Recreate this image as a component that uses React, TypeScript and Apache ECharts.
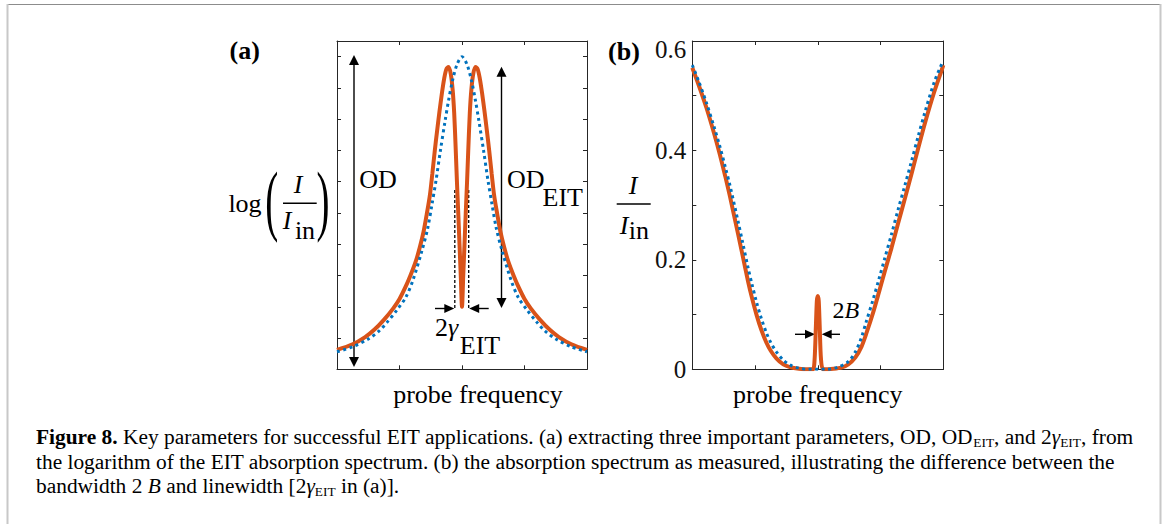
import React, { useEffect, useRef } from "react";
import * as echarts from "echarts";

// ---------- data ----------
// Panel (a): log(I/Iin) vs probe frequency
const aBlueX = [-4, -3.5, -3, -2.66, -2.4, -2.08, -1.8, -1.57, -1.28, -1.1, -0.96, -0.83, -0.69, -0.54, -0.43, -0.3, -0.16, 0, 0.16, 0.3, 0.43, 0.54, 0.69, 0.83, 0.96, 1.1, 1.28, 1.57, 1.8, 2.08, 2.4, 2.66, 3, 3.5, 4];
const aBlueY = [0.56, 0.72, 0.97, 1.22, 1.5, 1.9, 2.3, 2.85, 3.8, 4.5, 5.28, 6.05, 7.0, 7.95, 8.6, 9.25, 9.75, 10.0, 9.75, 9.25, 8.6, 7.95, 7.0, 6.05, 5.28, 4.5, 3.8, 2.85, 2.3, 1.9, 1.5, 1.22, 0.97, 0.72, 0.56];

const aOrangeX = [-4, -3.5, -3.1, -2.8, -2.5, -2.2, -2.0, -1.8, -1.65, -1.48, -1.35, -1.23, -1.13, -1.03, -0.95, -0.87, -0.8, -0.72, -0.64, -0.57, -0.5, -0.43, -0.36, -0.3, -0.25, -0.2, -0.16, -0.12, -0.08, -0.04, 0, 0.04, 0.08, 0.12, 0.16, 0.2, 0.25, 0.3, 0.36, 0.43, 0.5, 0.57, 0.64, 0.72, 0.8, 0.87, 0.95, 1.03, 1.13, 1.23, 1.35, 1.48, 1.65, 1.8, 2.0, 2.2, 2.5, 2.8, 3.1, 3.5, 4];
const aOrangeY = [0.62, 0.8, 1.03, 1.27, 1.58, 1.95, 2.25, 2.65, 3.0, 3.45, 3.9, 4.4, 4.95, 5.55, 6.25, 7.0, 7.6, 8.25, 8.85, 9.3, 9.6, 9.67, 9.45, 8.95, 8.2, 7.0, 5.95, 5.0, 4.0, 3.0, 2.0, 3.0, 4.0, 5.0, 5.95, 7.0, 8.2, 8.95, 9.45, 9.67, 9.6, 9.3, 8.85, 8.25, 7.6, 7.0, 6.25, 5.55, 4.95, 4.4, 3.9, 3.45, 3.0, 2.65, 2.25, 1.95, 1.58, 1.27, 1.03, 0.8, 0.62];

// Panel (b): I/Iin vs probe frequency
const bBlueX = [-4, -3.8, -3.55, -3.3, -3.12, -2.95, -2.8, -2.54, -2.4, -2.22, -2.1, -1.95, -1.8, -1.64, -1.5, -1.32, -1.1, -0.89, -0.6, -0.3, 0, 0.3, 0.6, 0.97, 1.2, 1.39, 1.55, 1.76, 1.95, 2.13, 2.35, 2.56, 2.78, 2.99, 3.2, 3.41, 3.7, 3.95, 4];
const bBlueY = [0.556, 0.527, 0.487, 0.442, 0.407, 0.37, 0.336, 0.27, 0.233, 0.185, 0.156, 0.122, 0.093, 0.067, 0.049, 0.032, 0.017, 0.008, 0.002, 0, 0, 0, 0.003, 0.014, 0.032, 0.058, 0.088, 0.127, 0.165, 0.202, 0.247, 0.292, 0.337, 0.381, 0.426, 0.469, 0.523, 0.558, 0.562];

const bOrangeX = [-4, -3.8, -3.55, -3.3, -3.12, -2.95, -2.8, -2.54, -2.4, -2.22, -2.1, -1.95, -1.8, -1.64, -1.5, -1.32, -1.1, -0.89, -0.6, -0.3, -0.15, -0.1, -0.06, -0.03, 0, 0.03, 0.06, 0.1, 0.17, 0.5, 0.75, 0.97, 1.2, 1.39, 1.55, 1.76, 1.95, 2.13, 2.35, 2.56, 2.78, 2.99, 3.2, 3.41, 3.7, 3.95, 4];
const bOrangeY = [0.551, 0.52, 0.478, 0.43, 0.392, 0.353, 0.316, 0.247, 0.209, 0.16, 0.131, 0.099, 0.072, 0.049, 0.034, 0.02, 0.009, 0.004, 0.001, 0, 0, 0.02, 0.08, 0.125, 0.134, 0.125, 0.08, 0.02, 0, 0.001, 0.003, 0.009, 0.022, 0.041, 0.066, 0.103, 0.141, 0.178, 0.222, 0.267, 0.313, 0.358, 0.404, 0.449, 0.505, 0.547, 0.556];

// axis ranges
const xRange = [-4, 4];
const xStep = 2;
const aYRange = [0, 10.5];
const aYStep = 1;
const bYRange = [0, 0.6];
const bYStep = 0.1;

const xAxisTitle = "probe frequency";
const captionLines = [
  "{b|Figure 8.} Key parameters for successful EIT applications. (a) extracting three important parameters, OD, OD{s|EIT}, and 2{g|γ}{s|EIT}, from",
  "the logarithm of the EIT absorption spectrum. (b) the absorption spectrum as measured, illustrating the difference between the",
  "bandwidth 2 {g|B} and linewidth [2{g|γ}{s|EIT} in (a)].",
];

// ---------- styling ----------
const ORANGE = "#D95319";
const BLUE = "#0072BD";
const AXIS = "#262626";
const SERIF = '"Liberation Serif", "Times New Roman", serif';

const zip = (xs: number[], ys: number[]) => xs.map((x, i) => [x, ys[i]]);

const text = (t: string, x: number, y: number, size: number, extra: any = {}, elExtra: any = {}) => ({
  type: "text",
  x,
  y,
  silent: true,
  ...elExtra,
  style: {
    text: t,
    fontFamily: SERIF,
    fontSize: size,
    fill: "#000",
    align: "center",
    verticalAlign: "middle",
    ...extra,
  },
});

const seg = (x1: number, y1: number, x2: number, y2: number, extra: any = {}) => ({
  type: "line",
  silent: true,
  shape: { x1, y1, x2, y2 },
  style: { stroke: "#000", lineWidth: 1.4, ...extra },
});

const tri = (pts: number[][]) => ({
  type: "polygon",
  silent: true,
  shape: { points: pts },
  style: { fill: "#000" },
});

const vArrow = (x: number, yTop: number, yBot: number) => [
  seg(x, yTop + 6, x, yBot - 6),
  tri([[x, yTop], [x - 5, yTop + 10], [x + 5, yTop + 10]]),
  tri([[x, yBot], [x - 5, yBot - 10], [x + 5, yBot - 10]]),
];

const hArrow = (xTail: number, xTip: number, y: number) => {
  const dir = xTip > xTail ? 1 : -1;
  return [
    seg(xTail, y, xTip - dir * 6, y),
    tri([[xTip, y], [xTip - dir * 10, y - 4.5], [xTip - dir * 10, y + 4.5]]),
  ];
};

const mkX = (grid: number, pos: "top" | "bottom", withName: boolean, pad: number) => ({
  type: "value",
  gridIndex: grid,
  position: pos,
  min: xRange[0],
  max: xRange[1],
  interval: xStep,
  axisLine: { show: true, onZero: false, lineStyle: { color: AXIS, width: 1 } },
  axisTick: { show: true, inside: true, length: 4, lineStyle: { color: AXIS, width: 1 } },
  axisLabel: { show: false },
  splitLine: { show: false },
  name: withName ? xAxisTitle : "",
  nameLocation: "middle",
  nameGap: 12,
  nameTextStyle: { fontFamily: SERIF, fontSize: 26, color: "#000", padding: [0, 0, 0, pad] },
});

const mkY = (grid: number, pos: "left" | "right", range: number[], step: number, labels: boolean) => ({
  type: "value",
  gridIndex: grid,
  position: pos,
  min: range[0],
  max: range[1],
  interval: step,
  axisLine: { show: true, onZero: false, lineStyle: { color: AXIS, width: 1 } },
  axisTick: { show: true, inside: true, length: 4, lineStyle: { color: AXIS, width: 1 } },
  axisLabel: labels
    ? {
        show: true,
        margin: 6,
        fontFamily: SERIF,
        fontSize: 25,
        color: "#111",
        formatter: (v: number) => {
          const k = Math.round(v * 10);
          if (k % 2 !== 0) return "";
          if (k === 0) return "0";
          const s = (k / 10).toFixed(1);
          return k === 6 ? "{top|" + s + "}" : s;
        },
        rich: { top: { fontFamily: SERIF, fontSize: 25, color: "#111", padding: [16, 0, 0, 0] } },
      }
    : { show: false },
  splitLine: { show: false },
});

export default function App() {
  const ref = useRef<HTMLDivElement>(null);

  useEffect(() => {
    if (!ref.current) return;
    const chart = echarts.init(ref.current, null, { renderer: "svg" });

    const capRich = {
      b: { fontWeight: "bold", fontFamily: SERIF, fontSize: 20, lineHeight: 24 },
      g: { fontStyle: "italic", fontFamily: SERIF, fontSize: 20, lineHeight: 24 },
      s: { fontFamily: SERIF, fontSize: 12.5, lineHeight: 12.5, verticalAlign: "bottom" },
    };

    const graphic: any[] = [
      // page frame
      seg(7, 4.5, 1161, 4.5, { stroke: "#8c8c8c", lineWidth: 1 }),
      seg(7.5, 4, 7.5, 524, { stroke: "#c8c8c8", lineWidth: 2 }),
      seg(1160.5, 4, 1160.5, 524, { stroke: "#c8c8c8", lineWidth: 2 }),

      // panel labels
      text("(a)", 244.7, 50.5, 26, { fontWeight: "bold" }),
      text("(b)", 624, 51, 26, { fontWeight: "bold" }),

      // y label (a): log( I / I_in )
      text("log", 245, 203, 26),
      text("(", 271.7, 199, 78, {}, { scaleX: 0.5 }),
      text(")", 323, 199, 78, {}, { scaleX: 0.5 }),
      text("I", 298, 184, 26, { fontStyle: "italic" }),
      seg(283, 203.3, 316.7, 203.3, { lineWidth: 1.6 }),
      text("I", 287, 220.5, 26, { fontStyle: "italic" }),
      text("in", 305, 230.5, 26),

      // y label (b): I / I_in
      text("I", 633, 185.5, 26, { fontStyle: "italic" }),
      seg(616.7, 204, 650.7, 204, { lineWidth: 1.6 }),
      text("I", 624, 225.5, 26, { fontStyle: "italic" }),
      text("in", 638.8, 230.5, 26),

      // OD annotation
      ...vArrow(354, 55, 367),
      text("OD", 378, 179, 26),
      // OD_EIT annotation
      ...vArrow(501.5, 66.7, 308),
      text("OD", 525.8, 179, 26),
      text("EIT", 562.7, 197.2, 26),

      // 2 gamma_EIT annotation
      seg(454.8, 190, 454.8, 310, { lineDash: [3, 2], lineWidth: 1.3 }),
      seg(468.7, 190, 468.7, 310, { lineDash: [3, 2], lineWidth: 1.3 }),
      ...hArrow(435, 454.3, 308.5),
      ...hArrow(488.7, 469.2, 308.5),
      text("2{g|γ}", 446.5, 327, 26, { rich: { g: { fontStyle: "italic", fontFamily: SERIF, fontSize: 26 } } }),
      text("EIT", 480, 345.5, 26),

      // 2B annotation
      ...hArrow(795, 815, 334.3),
      ...hArrow(840, 821.7, 334.3),
      text("2{g|B}", 845.8, 309.5, 24, { rich: { g: { fontStyle: "italic", fontFamily: SERIF, fontSize: 24 } } }),

      // caption
      ...captionLines.map((line, i) =>
        text(
          line,
          36,
          437.5 + i * 24.5,
          20,
          { align: "left", lineHeight: 24, rich: capRich },
          { scaleX: 1.07 }
        )
      ),
    ];

    chart.setOption({
      animation: false,
      backgroundColor: "#fff",
      grid: [
        { left: 337, top: 41, width: 250, height: 328.3, containLabel: false },
        { left: 692.3, top: 41, width: 251, height: 328.3, containLabel: false },
      ],
      xAxis: [mkX(0, "bottom", true, 32), mkX(0, "top", false, 0), mkX(1, "bottom", true, 0), mkX(1, "top", false, 0)],
      yAxis: [
        mkY(0, "left", aYRange, aYStep, false),
        mkY(0, "right", aYRange, aYStep, false),
        mkY(1, "left", bYRange, bYStep, true),
        mkY(1, "right", bYRange, bYStep, false),
      ],
      series: [
        {
          type: "line",
          xAxisIndex: 0,
          yAxisIndex: 0,
          data: zip(aOrangeX, aOrangeY),
          showSymbol: false,
          smooth: 0.3,
          lineStyle: { color: ORANGE, width: 4 },
          z: 2,
        },
        {
          type: "line",
          xAxisIndex: 0,
          yAxisIndex: 0,
          data: zip(aBlueX, aBlueY),
          showSymbol: false,
          smooth: 0.3,
          lineStyle: { color: BLUE, width: 3, type: [3, 3.5], cap: "butt" },
          z: 3,
        },
        {
          type: "line",
          xAxisIndex: 2,
          yAxisIndex: 2,
          data: zip(bOrangeX, bOrangeY),
          showSymbol: false,
          smooth: 0.25,
          lineStyle: { color: ORANGE, width: 4 },
          z: 2,
        },
        {
          type: "line",
          xAxisIndex: 2,
          yAxisIndex: 2,
          data: zip(bBlueX, bBlueY),
          showSymbol: false,
          smooth: 0.3,
          lineStyle: { color: BLUE, width: 3, type: [3, 3.5], cap: "butt" },
          z: 3,
        },
      ],
      graphic,
    });

    return () => chart.dispose();
  }, []);

  return (
    <div
      ref={ref}
      style={{ position: "absolute", left: 0, top: 0, width: 1168, height: 524, background: "#fff" }}
    />
  );
}
